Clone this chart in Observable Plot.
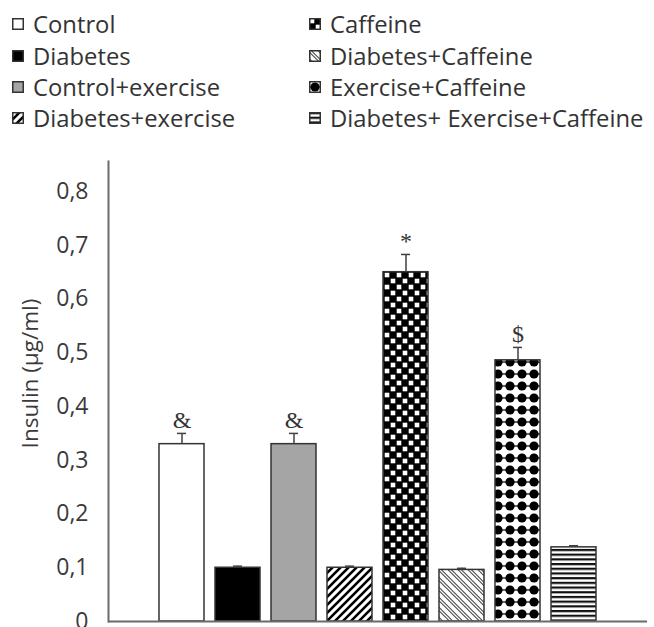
<!DOCTYPE html>
<html>
<head>
<meta charset="utf-8">
<script src="https://cdn.jsdelivr.net/npm/d3@7"></script>
<script src="https://cdn.jsdelivr.net/npm/@observablehq/plot@0.6"></script>
<style>
  html, body { margin: 0; padding: 0; background: #fff; }
  #page { position: relative; width: 654px; height: 627px; overflow: hidden; font-family: "Open Sans", sans-serif; color: #333; }
  #legend { position: absolute; left: 0; top: 0; width: 654px; height: 140px; }
  .item { position: absolute; height: 28px; line-height: 28px; font-size: 23.8px; white-space: nowrap; }
  .item svg { position: absolute; left: 0; top: 8px; }
  .item span { position: absolute; left: 21px; top: 0; }
  #chart { position: absolute; left: 0; top: 140px; }
</style>
</head>
<body>
<!-- fill patterns shared by the bars and the legend swatches -->
<svg width="0" height="0" style="position:absolute">
  <defs>
    <pattern id="hatchUp" patternUnits="userSpaceOnUse" width="8" height="8">
      <rect width="8" height="8" fill="#fff"/>
      <path d="M-2,2 L2,-2 M0,8 L8,0 M6,10 L10,6" stroke="#000" stroke-width="2.6"/>
    </pattern>
    <pattern id="checker" patternUnits="userSpaceOnUse" width="12" height="12">
      <rect width="12" height="12" fill="#000"/>
      <rect x="0.7" y="0.7" width="4.6" height="4.6" fill="#fff"/>
      <rect x="6.7" y="6.7" width="4.6" height="4.6" fill="#fff"/>
    </pattern>
    <pattern id="hatchDown" patternUnits="userSpaceOnUse" width="10" height="10">
      <rect width="10" height="10" fill="#fff"/>
      <path d="M-1,-1 L11,11 M-1,9 L1,11 M9,-1 L11,1" stroke="#4a4a4a" stroke-width="3.4"/>
      <path d="M-1,-1 L11,11 M-1,9 L1,11 M9,-1 L11,1" stroke="#fff" stroke-width="1.3"/>
    </pattern>
    <pattern id="spheres" patternUnits="userSpaceOnUse" width="12" height="12">
      <rect width="12" height="12" fill="#fff"/>
      <line x1="0" y1="6" x2="12" y2="6" stroke="#222" stroke-width="1.4"/>
      <circle cx="6" cy="6" r="4.6" fill="#000"/>
    </pattern>
    <pattern id="stripes" patternUnits="userSpaceOnUse" width="8" height="4.7">
      <rect width="8" height="4.7" fill="#fff"/>
      <rect y="0" width="8" height="2.2" fill="#111"/>
    </pattern>
  </defs>
</svg>

<div id="page">
  <div id="legend"></div>
  <div id="chart"></div>
</div>

<script>
// Insulin by group (µg/ml): mean and standard error
const groups = [
  "Control", "Diabetes", "Control+exercise", "Diabetes+exercise",
  "Caffeine", "Diabetes+Caffeine", "Exercise+Caffeine", "Diabetes+ Exercise+Caffeine"
];
const insulin = [0.33, 0.10, 0.33, 0.10, 0.65, 0.096, 0.486, 0.138];
const sem = [0.02, 0.003, 0.02, 0.003, 0.033, 0.003, 0.024, 0.003];
const significance = ["&", "", "&", "", "*", "", "$", ""];
const yTicks = [0, 0.1, 0.2, 0.3, 0.4, 0.5, 0.6, 0.7, 0.8];

// bar fills, in group order
const fills = ["#ffffff", "#000000", "#a5a5a5", "url(#hatchUp)",
               "url(#checker)", "url(#hatchDown)", "url(#spheres)", "url(#stripes)"];

const rows = groups.map((g, i) => ({
  group: g, insulin: insulin[i], sem: sem[i], sig: significance[i], fill: fills[i]
}));

// legend: two columns of four
const legend = document.getElementById("legend");
const rowY = [24, 56, 87, 118];
groups.forEach((g, i) => {
  const col = Math.floor(i / 4), row = i % 4;
  const item = document.createElement("div");
  item.className = "item";
  item.style.left = (col === 0 ? 12 : 309) + "px";
  item.style.top = (rowY[row] - 14) + "px";
  item.innerHTML = `<svg width="12" height="12"><rect x="0.75" y="0.75" width="10.5" height="10.5" fill="${fills[i]}" stroke="#333" stroke-width="1.5"/></svg><span>${g}</span>`;
  legend.appendChild(item);
});

const fmt = d => d === 0 ? "0" : d.toFixed(1).replace(".", ",");

const chart = Plot.plot({
  width: 654,
  height: 487,
  marginLeft: 108,
  marginRight: 7,
  marginTop: 21,
  marginBottom: 6,
  style: { fontFamily: "Open Sans", fontSize: "23px", color: "#3a3a3a", background: "transparent", overflow: "visible" },
  x: { domain: groups, paddingInner: 0.19, paddingOuter: 0.855, axis: null },
  y: { domain: [0, 0.856], axis: null },
  color: { type: "identity" },
  marks: [
    Plot.barY(rows, { x: "group", y: "insulin", fill: "fill", stroke: "#333", strokeWidth: 1.5 }),
    Plot.ruleX(rows, { x: "group", y1: "insulin", y2: d => d.insulin + d.sem, stroke: "#404040", strokeWidth: 1.5 }),
    Plot.tickY(rows, { x: "group", y: d => d.insulin + d.sem, stroke: "#404040", strokeWidth: 1.5, insetLeft: 18, insetRight: 18 }),
    Plot.text(rows.filter(d => d.sig), {
      x: "group", y: d => d.insulin + d.sem, text: "sig",
      lineAnchor: "bottom", dy: -5, fontFamily: "Liberation Serif", fontSize: 24, fill: "#333"
    }),
    Plot.axisY({ ticks: yTicks, tickFormat: fmt, tickSize: 0, tickPadding: 20, label: null, fontSize: 23 }),
    Plot.ruleY([0], { stroke: "#6b6b6b", strokeWidth: 2 }),
    Plot.frame({ anchor: "left", stroke: "#6b6b6b", strokeWidth: 2 }),
    Plot.text(["Insulin (µg/ml)"], {
      frameAnchor: "left", textAnchor: "middle", rotate: -90, dx: -78, dy: -18, fontSize: 22.5, fill: "#3a3a3a"
    })
  ]
});
document.getElementById("chart").appendChild(chart);
</script>
</body>
</html>
